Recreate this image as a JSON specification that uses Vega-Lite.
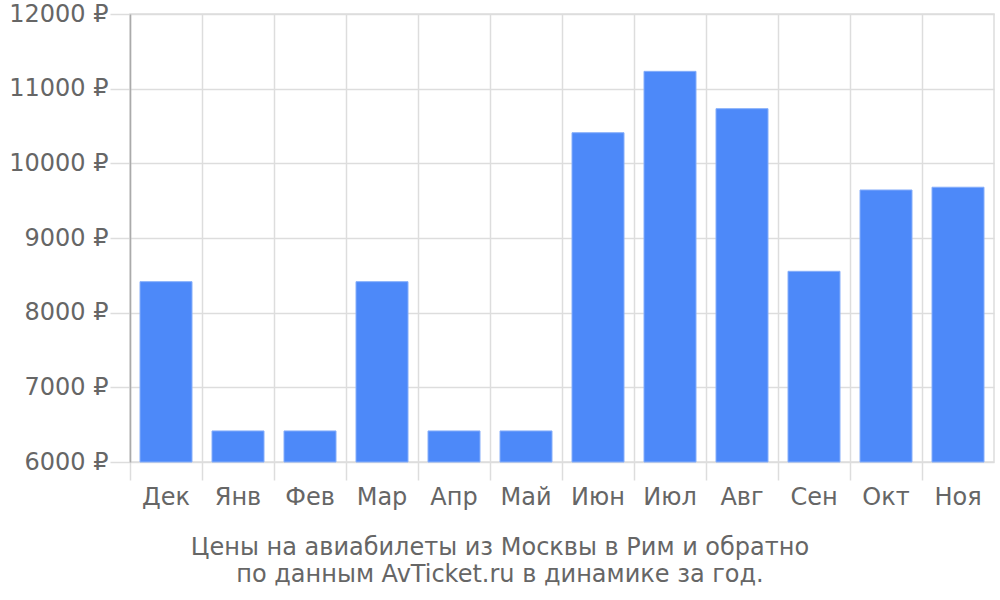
{
  "$schema": "https://vega.github.io/schema/vega-lite/v6.json",
  "width": 864,
  "height": 448,
  "autosize": {"type": "none"},
  "padding": {"left": 130, "top": 14, "right": 6, "bottom": 138},
  "title": {
    "text": ["Цены на авиабилеты из Москвы в Рим и обратно", "по данным AvTicket.ru в динамике за год."],
    "orient": "bottom",
    "anchor": "middle",
    "dx": -62,
    "offset": 27,
    "font": "DejaVu Sans",
    "fontSize": 24,
    "fontWeight": "normal",
    "color": "#666666",
    "lineHeight": 27
  },
  "data": {
    "values": [
      {"month": "Дек", "price": 8415},
      {"month": "Янв", "price": 6416},
      {"month": "Фев", "price": 6416},
      {"month": "Мар", "price": 8415},
      {"month": "Апр", "price": 6416},
      {"month": "Май", "price": 6416},
      {"month": "Июн", "price": 10410},
      {"month": "Июл", "price": 11232},
      {"month": "Авг", "price": 10732},
      {"month": "Сен", "price": 8554},
      {"month": "Окт", "price": 9643},
      {"month": "Ноя", "price": 9680}
    ]
  },
  "mark": {"type": "bar", "size": 52, "color": "#4d89f9", "stroke": "#86aefa", "strokeWidth": 1},
  "encoding": {
    "x": {
      "field": "month",
      "type": "nominal",
      "sort": null,
      "scale": {"paddingInner": 0, "paddingOuter": 0},
      "axis": {
        "title": null,
        "labelAngle": 0,
        "bandPosition": 0,
        "grid": true,
        "gridColor": "#dddddd",
        "gridWidth": 1.5,
        "domain": false,
        "tickColor": "#dddddd",
        "tickWidth": 1.5,
        "tickSize": 18,
        "labelPadding": 5,
        "labelFont": "DejaVu Sans",
        "labelFontSize": 24,
        "labelColor": "#666666"
      }
    },
    "y": {
      "field": "price",
      "type": "quantitative",
      "scale": {"domain": [6000, 12000], "zero": false},
      "axis": {
        "title": null,
        "values": [6000, 7000, 8000, 9000, 10000, 11000, 12000],
        "labelExpr": "datum.value + ' ₽'",
        "grid": true,
        "gridColor": "#dddddd",
        "gridWidth": 1.5,
        "domainColor": "#aaaaaa",
        "domainWidth": 1.5,
        "tickColor": "#dddddd",
        "tickWidth": 1.5,
        "tickSize": 20,
        "labelPadding": 2,
        "labelFont": "DejaVu Sans",
        "labelFontSize": 24,
        "labelColor": "#666666"
      }
    },
    "y2": {"datum": 6000}
  },
  "config": {
    "view": {"stroke": "#dddddd", "strokeWidth": 1.5}
  }
}
